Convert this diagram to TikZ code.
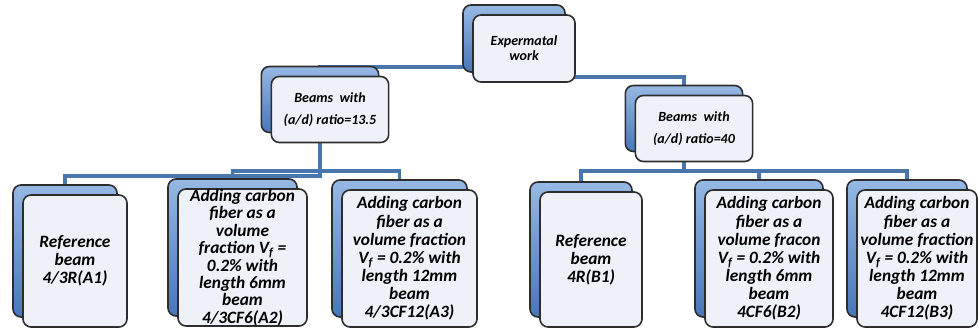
\documentclass[tikz,border=0pt]{standalone}
\usepackage{fontspec}
\setmainfont{Carlito}
\usepackage{tikz}
\usetikzlibrary{shadows,backgrounds}
\definecolor{linkblue}{RGB}{74,118,174}
\definecolor{backblue}{RGB}{72,118,186}
\definecolor{backlight}{RGB}{150,184,228}
\definecolor{cardfill}{RGB}{238,242,248}
\definecolor{cardline}{RGB}{45,45,45}
\tikzset{
    % front card, with the blue card peeking out behind it
    card/.style={
        draw=cardline, fill=cardfill, rounded corners=6pt,
        line width=1.2pt, inner xsep=1pt, inner ysep=1pt, align=center,
        general shadow={draw=cardline, top color=backlight, bottom color=backblue,
            shadow xshift=-7.5pt, shadow yshift=7.5pt}
    },
    % the three levels of the tree
    topcard/.style={card, minimum width=76.5pt, minimum height=50.25pt,
        font=\fontsize{10.5}{11.25}\selectfont\bfseries\itshape},
    midcard/.style={card, minimum width=88pt, minimum height=49.5pt,
        font=\fontsize{10.5}{16.5}\selectfont\bfseries\itshape},
    leafcard/.style={card, minimum height=102.75pt,
        font=\fontsize{13}{13.6}\selectfont\bfseries\itshape},
    % connector between the cards
    link/.style={draw=linkblue, line width=2.6pt},
}
\begin{document}
\begin{tikzpicture}[x=0.75pt,y=-0.75pt]
      \useasboundingbox (0,0) rectangle (979,328);
      \node[topcard] (top) at (524,48.5) {Expermatal\\work};
      \node[midcard] (ml) at (330,109.5) {Beams~ with\\(a/d) ratio=13.5};
      \node[midcard] (mr) at (694,128.5) {Beams~ with\\(a/d) ratio=40};
      \node[leafcard,minimum width=78pt,minimum height=99pt] (a1) at (75,261)
        {Reference\\beam\\4/3R(A1)};
      \node[leafcard,minimum width=96.75pt,inner ysep=-2.5pt,
            font=\fontsize{13}{13.1}\selectfont\bfseries\itshape] (a2) at (242.5,257.5)
        {Adding carbon\\fiber as a\\volume\\fraction V\textsubscript{f} =\\0.2\% with\\length 6mm\\beam\\4/3CF6(A2)};
      \node[leafcard,minimum width=101.25pt] (a3) at (409.5,258.5)
        {Adding carbon\\fiber as a\\volume fraction\\V\textsubscript{f} = 0.2\% with\\length 12mm\\beam\\4/3CF12(A3)};
      \node[leafcard,minimum width=76.5pt,minimum height=101.25pt] (b1) at (591,259.5)
        {Reference\\beam\\4R(B1)};
      \node[leafcard,minimum width=96pt] (b2) at (769,258.5)
        {Adding carbon\\fiber as a\\volume fracon\\V\textsubscript{f} = 0.2\% with\\length 6mm\\beam\\4CF6(B2)};
      \node[leafcard,minimum width=90pt] (b3) at (917,258.5)
        {Adding carbon\\fiber as a\\volume fraction\\V\textsubscript{f} = 0.2\% with\\length 12mm\\beam\\4CF12(B3)};
      \begin{pgfonlayer}{background}
        \draw[link] ([yshift=-13.9pt]top.center) -| ([xshift=-7.5pt]ml.center);
        \draw[link] ([yshift=-21.4pt]top.center) -| ([xshift=-7.5pt]mr.center);
        \draw[link] ([xshift=-7.5pt]ml.center) |- ([xshift=-7.5pt,yshift=13.5pt]a1.north)
          -- ([xshift=-7.5pt]a1.center);
        \draw[link] ([xshift=-7.5pt]a2.center) |- ([xshift=-7.5pt,yshift=13.5pt]a3.north)
          -- ([xshift=-7.5pt]a3.center);
        \draw[link] ([xshift=-7.5pt]b1.center) |- ([xshift=-7.5pt,yshift=13.5pt]b3.north)
          -- ([xshift=-7.5pt]b3.center);
        \draw[link] ([xshift=-7.5pt]mr.center) |- ([xshift=-7.5pt,yshift=13.5pt]b2.north)
          -- ([xshift=-7.5pt]b2.center);
      \end{pgfonlayer}
    \end{tikzpicture}
\end{document}
